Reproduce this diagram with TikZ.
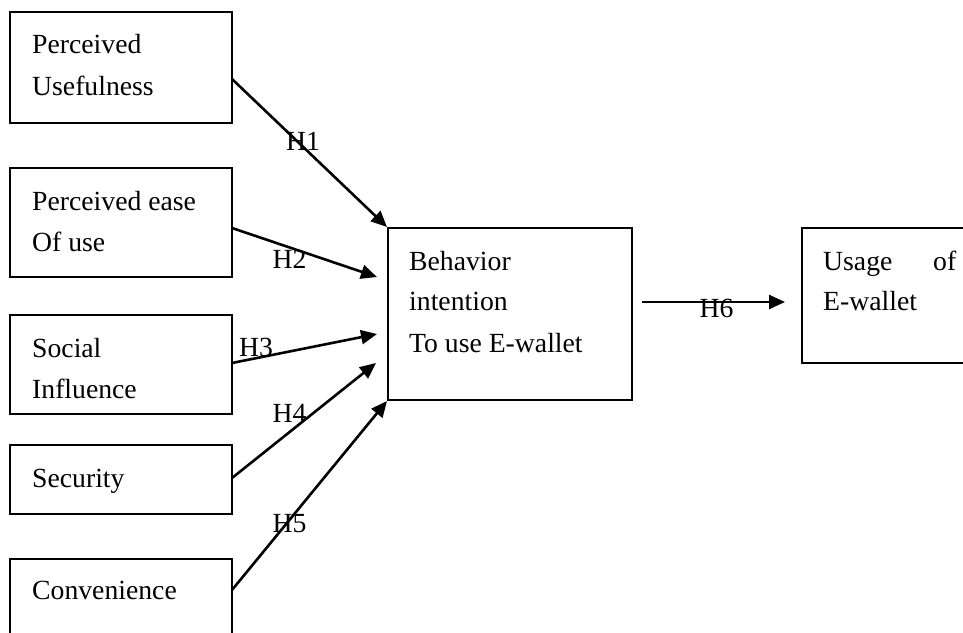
\documentclass[tikz,border=0pt]{standalone}
\usepackage{fontspec}
\setmainfont{Liberation Serif}
\usetikzlibrary{arrows.meta}
\begin{document}
\begin{tikzpicture}[x=1pt,y=-1pt,
  box/.style={draw,line width=2pt,inner sep=0pt},
  txt/.style={anchor=base west,inner sep=0pt,font=\fontsize{27.7}{33}\selectfont},
  hyp/.style={anchor=base,inner sep=0pt,font=\fontsize{27.7}{33}\selectfont},
  conn/.style={line width=2.6pt,-{Triangle[length=16pt,width=14pt]}}]
\useasboundingbox (0,0) rectangle (963,632);
% boxes
\node[box,minimum width=222pt,minimum height=111pt] (pu) at (121,67.5) {};
\node[box,minimum width=222pt,minimum height=109pt] (peou) at (121,222.5) {};
\node[box,minimum width=222pt,minimum height=99pt] (si) at (121,364.5) {};
\node[box,minimum width=222pt,minimum height=69pt] (sec) at (121,479.5) {};
\node[box,minimum width=222pt,minimum height=101pt] (conv) at (121,609.5) {};
\node[box,minimum width=244pt,minimum height=172pt] (bi) at (510,314) {};
\node[box,minimum width=178pt,minimum height=135pt] (use) at (891,295.5) {};
% texts
\node[txt] (t1a) at (32,53) {Perceived};
\node[txt] (t1b) at (32,95) {Usefulness};
\node[txt] (t2a) at (32,210) {Perceived ease};
\node[txt] (t2b) at (32,251) {Of use};
\node[txt] (t3a) at (32,357) {Social};
\node[txt] (t3b) at (32,398) {Influence};
\node[txt] (t4) at (32,487) {Security};
\node[txt] (t5) at (32,599) {Convenience};
\node[txt] (tba) at (409,270) {Behavior};
\node[txt] (tbb) at (409,310) {intention};
\node[txt] (tbc) at (409,352) {To use E-wallet};
\node[txt] (tua) at (823,270) {Usage};
\node[txt] (tub) at (933,270) {of};
\node[txt] (tuc) at (823,310) {E-wallet};
% connector end points
\coordinate (s1) at (232,79);
\coordinate (s2) at (232,228);
\coordinate (e2) at (377,277);
\coordinate (s3) at (232,363);
\coordinate (e3) at (377,334);
\coordinate (s4) at (232,478);
\coordinate (e4) at (376,363);
\coordinate (s5) at (232,590);
\coordinate (s6) at (642,302);
\coordinate (e6) at (785,302);
% connectors
\draw[conn] (s1) -- (bi.north west);
\draw[conn] (s2) -- (e2);
\draw[conn] (s3) -- (e3);
\draw[conn] (s4) -- (e4);
\draw[conn] (s5) -- (bi.south west);
\draw[conn] (s6) -- (e6);
% labels
\node[hyp] (h1) at (303,150) {H1};
\node[hyp] (h2) at (289.5,268) {H2};
\node[hyp] (h3) at (256,356) {H3};
\node[hyp] (h4) at (289.5,422) {H4};
\node[hyp] (h5) at (289.5,532) {H5};
\node[hyp] (h6) at (716.5,317) {H6};
\end{tikzpicture}
\end{document}
